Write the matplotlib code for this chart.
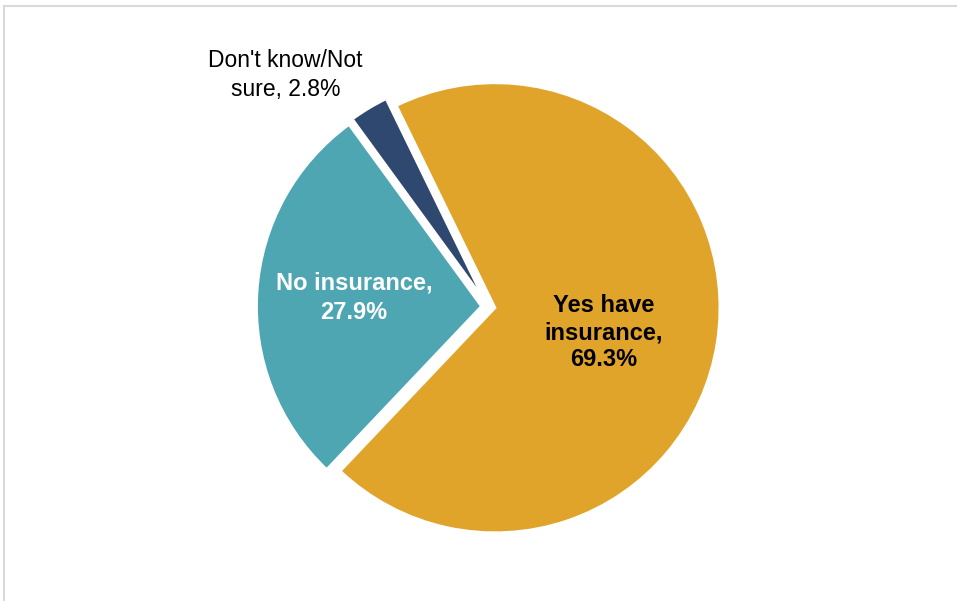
import matplotlib.pyplot as plt
from matplotlib.patches import Rectangle

labels = ["Yes have\ninsurance,", "No insurance,", "Don't know/Not\nsure,"]
values = [69.3, 27.9, 2.8]
colors = ["#E1A42A", "#4DA6B2", "#2F4870"]

plt.rcParams['font.family'] = ['Liberation Sans', 'DejaVu Sans']

fig = plt.figure(figsize=(9.57, 6.01), dpi=100)
# light grey chart frame (right/bottom run off the image)
fig.patches.append(Rectangle((4 / 957, -0.1), 1.1, 1 - 6 / 601 + 0.1,
                             transform=fig.transFigure, fill=False,
                             edgecolor="#D9D9D9", linewidth=1.5))

ax = fig.add_axes([0.2163, 0.0216, 0.5878, 0.936])
wedges, _ = ax.pie(values, colors=colors, startangle=116, counterclock=False,
                   explode=[0.03, 0.03, 0.03],
                   wedgeprops=dict(edgecolor="white", linewidth=2))
ax.set_xlim(-1.25, 1.25)
ax.set_ylim(-1.25, 1.25)
ax.set_aspect("equal")
ax.axis("off")

# data labels
ax.text(0.511, -0.116, f"{labels[0]}\n{values[0]}%", ha="center", va="center",
        fontsize=17, fontweight="bold", color="black", linespacing=1.22)
ax.text(-0.596, 0.04, f"{labels[1]}\n{values[1]}%", ha="center", va="center",
        fontsize=17, fontweight="bold", color="white", linespacing=1.35)
ax.text(-0.902, 1.031, f"{labels[2]} {values[2]}%", ha="center", va="center",
        fontsize=16.5, color="black", linespacing=1.35)

fig.savefig("out.png", dpi=100)
